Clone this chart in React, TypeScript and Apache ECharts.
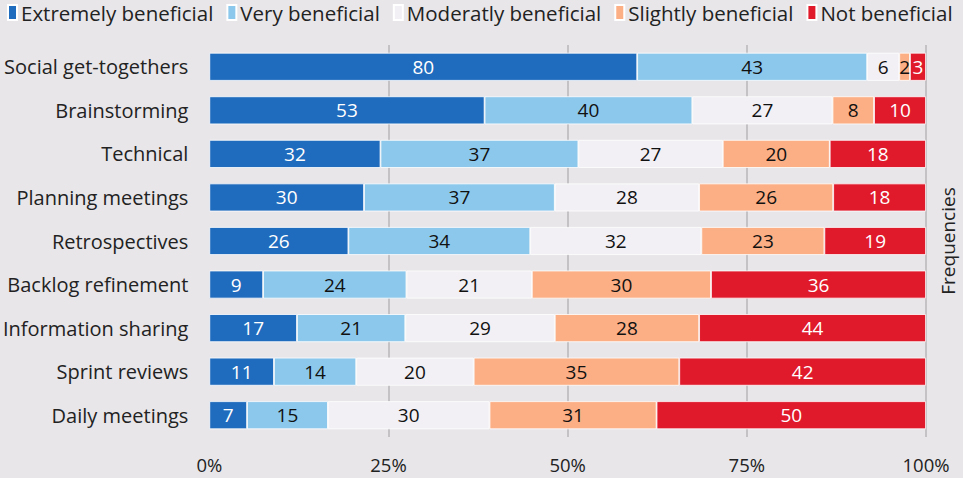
import React, { useEffect, useRef } from "react";
import * as echarts from "echarts";

const categories = [
  "Social get-togethers",
  "Brainstorming",
  "Technical",
  "Planning meetings",
  "Retrospectives",
  "Backlog refinement",
  "Information sharing",
  "Sprint reviews",
  "Daily meetings",
];

const seriesNames = [
  "Extremely beneficial",
  "Very beneficial",
  "Moderatly beneficial",
  "Slightly beneficial",
  "Not beneficial",
];

const extremely = [80, 53, 32, 30, 26, 9, 17, 11, 7];
const very = [43, 40, 37, 37, 34, 24, 21, 14, 15];
const moderately = [6, 27, 27, 28, 32, 21, 29, 20, 30];
const slightly = [2, 8, 20, 26, 23, 30, 28, 35, 31];
const notBeneficial = [3, 10, 18, 18, 19, 36, 44, 42, 50];

const xTicks = [0, 25, 50, 75, 100];

const colors = ["#1f6bbd", "#8cc8ec", "#f2f0f4", "#fcae84", "#e0192b"];
const labelColors = ["#ffffff", "#111111", "#111111", "#111111", "#ffffff"];

export default function App() {
  const ref = useRef<HTMLDivElement>(null);
  useEffect(() => {
    if (!ref.current) return;
    const chart = echarts.init(ref.current, undefined, { renderer: "svg" });
    const raw = [extremely, very, moderately, slightly, notBeneficial];
    const totals = categories.map((_, i) => raw.reduce((s, arr) => s + arr[i], 0));
    const font = "Open Sans";
    chart.setOption({
      animation: false,
      backgroundColor: "#e8e6e9",
      textStyle: { fontFamily: font },
      legend: {
        left: 2,
        top: -3,
        itemWidth: 9,
        itemHeight: 15,
        itemGap: 13,
        icon: "rect",
        textStyle: { fontSize: 20.5, color: "#222", fontFamily: font, padding: [0, 0, 0, -1] },
        data: seriesNames,
      },
      grid: { left: 207, right: 37, top: 45, bottom: 41 },
      xAxis: {
        type: "value",
        min: xTicks[0],
        max: xTicks[xTicks.length - 1],
        interval: 25,
        axisLabel: {
          formatter: "{value}%",
          fontSize: 18.5,
          color: "#222",
          margin: 18,
          fontFamily: font,
        },
        axisLine: { show: false },
        axisTick: { show: false },
        splitLine: {
          show: true,
          lineStyle: {
            color: ["rgba(0,0,0,0)", "#b8b6b9", "#b8b6b9", "#b8b6b9", "#b8b6b9"],
            width: 1.5,
          },
        },
      },
      yAxis: {
        type: "category",
        inverse: true,
        data: categories,
        axisLine: { show: false },
        axisTick: { show: false },
        axisLabel: { fontSize: 20, color: "#222", margin: 21, fontFamily: font },
      },
      graphic: [
        {
          type: "text",
          x: 948,
          y: 241,
          rotation: Math.PI / 2,
          style: {
            text: "Frequencies",
            fontSize: 19,
            fill: "#222",
            fontFamily: font,
            align: "center",
            verticalAlign: "middle",
          },
        },
      ],
      series: seriesNames.map((name, si) => ({
        name,
        type: "bar",
        stack: "total",
        barWidth: 28,
        itemStyle: { color: colors[si], borderColor: "#ffffff", borderWidth: 0.8 },
        label: {
          show: true,
          position: "inside",
          fontSize: 19,
          color: labelColors[si],
          fontFamily: font,
          formatter: (p: any) => String(raw[si][p.dataIndex]),
        },
        data: raw[si].map((v, i) => (v / totals[i]) * 100),
      })),
    });
    return () => chart.dispose();
  }, []);
  return (
    <div
      ref={ref}
      style={{ position: "fixed", left: 0, top: 0, width: 963, height: 478 }}
    />
  );
}
